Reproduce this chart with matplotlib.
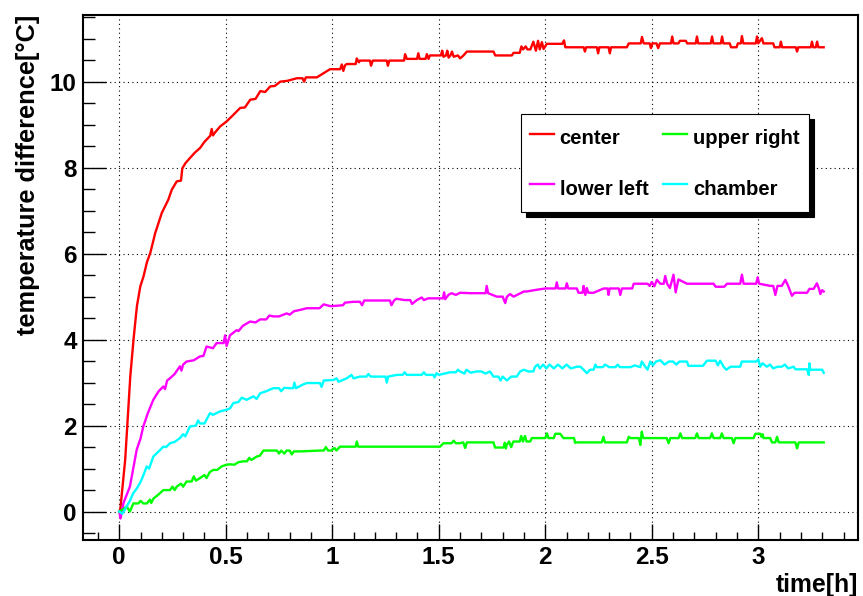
import matplotlib

matplotlib.use("Agg")
import matplotlib.pyplot as plt
from matplotlib.ticker import FormatStrFormatter, MultipleLocator

plt.rcParams["font.family"] = ["Liberation Sans", "DejaVu Sans"]
plt.rcParams["font.weight"] = "bold"

# heating run: time since start [h] and temperature difference [deg C] per sensor
t_center = [
    0.000, 0.005, 0.028, 0.052, 0.067, 0.083, 0.099, 0.114, 0.130, 0.146,
    0.169, 0.185, 0.200, 0.215, 0.230, 0.247, 0.270, 0.290, 0.296, 0.310,
    0.333, 0.355, 0.380, 0.400, 0.427, 0.434, 0.440, 0.450, 0.474, 0.490,
    0.505, 0.530, 0.568, 0.590, 0.615, 0.640, 0.662, 0.685, 0.709, 0.730,
    0.756, 0.790, 0.834, 0.860, 0.868, 0.876, 0.928, 0.960, 0.990, 1.037,
    1.045, 1.052, 1.060, 1.068, 1.110, 1.115, 1.125, 1.130, 1.177, 1.182,
    1.190, 1.256, 1.261, 1.268, 1.337, 1.342, 1.350, 1.398, 1.404, 1.410,
    1.438, 1.444, 1.452, 1.459, 1.510, 1.516, 1.522, 1.534, 1.540, 1.546,
    1.555, 1.562, 1.570, 1.590, 1.600, 1.616, 1.632, 1.757, 1.765, 1.843,
    1.851, 1.880, 1.888, 1.896, 1.908, 1.916, 1.930, 1.944, 1.956, 1.966,
    1.974, 1.984, 1.992, 2.007, 2.080, 2.088, 2.094, 2.101, 2.180, 2.186,
    2.192, 2.242, 2.248, 2.254, 2.297, 2.303, 2.309, 2.383, 2.392, 2.399,
    2.448, 2.454, 2.462, 2.490, 2.496, 2.503, 2.522, 2.530, 2.538, 2.590,
    2.596, 2.602, 2.625, 2.632, 2.660, 2.666, 2.706, 2.712, 2.718, 2.777,
    2.783, 2.789, 2.824, 2.830, 2.836, 2.866, 2.872, 2.898, 2.904, 2.918,
    2.923, 2.930, 2.988, 2.994, 3.000, 3.012, 3.017, 3.024, 3.070, 3.076,
    3.085, 3.100, 3.106, 3.112, 3.176, 3.182, 3.188, 3.246, 3.252, 3.258,
    3.270, 3.276, 3.282, 3.307,
]
dt_center = [
    0.00, 0.05, 1.21, 3.15, 4.00, 4.78, 5.24, 5.47, 5.80, 6.02,
    6.48, 6.72, 6.95, 7.10, 7.25, 7.49, 7.68, 7.70, 7.98, 8.10,
    8.23, 8.35, 8.46, 8.60, 8.74, 8.90, 8.75, 8.82, 8.96, 9.02,
    9.08, 9.20, 9.39, 9.40, 9.58, 9.60, 9.78, 9.76, 9.89, 9.90,
    10.00, 10.02, 10.08, 10.08, 10.00, 10.10, 10.10, 10.20, 10.29, 10.29,
    10.40, 10.25, 10.38, 10.41, 10.41, 10.54, 10.45, 10.49, 10.49, 10.37,
    10.49, 10.49, 10.37, 10.49, 10.49, 10.64, 10.53, 10.53, 10.66, 10.53,
    10.53, 10.64, 10.53, 10.61, 10.61, 10.72, 10.58, 10.61, 10.72, 10.56,
    10.61, 10.70, 10.58, 10.61, 10.54, 10.61, 10.70, 10.70, 10.61, 10.61,
    10.67, 10.67, 10.82, 10.75, 10.82, 10.75, 10.75, 10.93, 10.72, 10.95,
    10.75, 10.92, 10.76, 10.88, 10.88, 10.96, 10.80, 10.80, 10.80, 10.70,
    10.80, 10.80, 10.66, 10.80, 10.80, 10.66, 10.80, 10.80, 10.89, 10.89,
    10.89, 11.04, 10.89, 10.89, 10.78, 10.89, 10.89, 10.78, 10.89, 10.89,
    11.05, 10.89, 10.89, 10.95, 10.95, 10.89, 10.89, 11.05, 10.89, 10.89,
    11.05, 10.89, 10.89, 11.05, 10.89, 10.89, 10.80, 10.80, 10.89, 10.89,
    11.06, 10.89, 10.89, 11.05, 10.89, 10.98, 11.01, 10.89, 10.89, 10.80,
    10.80, 10.80, 10.93, 10.80, 10.80, 10.70, 10.80, 10.80, 10.93, 10.80,
    10.80, 10.93, 10.80, 10.80,
]

t_lower_left = [
    0.000, 0.006, 0.020, 0.050, 0.082, 0.100, 0.113, 0.135, 0.160, 0.185,
    0.207, 0.215, 0.225, 0.238, 0.260, 0.285, 0.292, 0.300, 0.316, 0.350,
    0.379, 0.395, 0.410, 0.440, 0.457, 0.490, 0.497, 0.504, 0.520, 0.551,
    0.560, 0.580, 0.614, 0.640, 0.661, 0.690, 0.705, 0.723, 0.750, 0.786,
    0.800, 0.820, 0.848, 0.880, 0.940, 0.960, 0.990, 1.000, 1.050, 1.060,
    1.099, 1.130, 1.140, 1.150, 1.271, 1.278, 1.290, 1.300, 1.340, 1.366,
    1.375, 1.397, 1.420, 1.430, 1.450, 1.520, 1.525, 1.530, 1.545, 1.560,
    1.580, 1.600, 1.647, 1.720, 1.725, 1.732, 1.772, 1.790, 1.800, 1.812,
    1.820, 1.835, 1.851, 1.900, 1.913, 1.960, 2.000, 2.048, 2.054, 2.060,
    2.070, 2.095, 2.101, 2.108, 2.148, 2.156, 2.175, 2.180, 2.188, 2.195,
    2.202, 2.227, 2.274, 2.292, 2.297, 2.302, 2.345, 2.352, 2.360, 2.408,
    2.415, 2.480, 2.490, 2.500, 2.512, 2.524, 2.540, 2.556, 2.563, 2.572,
    2.585, 2.596, 2.602, 2.612, 2.625, 2.665, 2.790, 2.800, 2.840, 2.853,
    2.915, 2.923, 2.931, 2.947, 2.990, 2.997, 3.004, 3.056, 3.070, 3.080,
    3.090, 3.110, 3.127, 3.140, 3.158, 3.170, 3.182, 3.229, 3.240, 3.260,
    3.275, 3.285, 3.291, 3.300, 3.307,
]
dt_lower_left = [
    0.00, -0.16, 0.20, 0.58, 1.44, 1.70, 1.98, 2.30, 2.60, 2.80,
    2.91, 2.85, 3.05, 3.10, 3.20, 3.38, 3.28, 3.42, 3.49, 3.52,
    3.61, 3.62, 3.84, 3.80, 3.92, 3.92, 4.10, 3.85, 4.10, 4.22,
    4.20, 4.32, 4.42, 4.40, 4.47, 4.47, 4.56, 4.54, 4.54, 4.61,
    4.58, 4.66, 4.69, 4.73, 4.73, 4.82, 4.78, 4.78, 4.80, 4.86,
    4.88, 4.88, 4.80, 4.91, 4.91, 4.80, 4.91, 4.95, 4.92, 4.92,
    4.83, 4.92, 4.98, 4.92, 4.96, 4.96, 5.10, 4.94, 5.04, 5.08,
    5.04, 5.09, 5.08, 5.08, 5.25, 5.08, 5.00, 5.00, 5.00, 4.85,
    5.00, 5.06, 5.00, 5.12, 5.12, 5.16, 5.19, 5.19, 5.33, 5.19,
    5.19, 5.19, 5.31, 5.19, 5.19, 5.09, 5.09, 5.25, 5.04, 5.20,
    5.09, 5.09, 5.19, 5.19, 5.04, 5.19, 5.19, 5.04, 5.19, 5.19,
    5.30, 5.30, 5.25, 5.34, 5.24, 5.39, 5.30, 5.30, 5.48, 5.30,
    5.20, 5.40, 5.51, 5.10, 5.40, 5.30, 5.30, 5.23, 5.23, 5.30,
    5.30, 5.51, 5.30, 5.30, 5.30, 5.45, 5.30, 5.25, 5.25, 5.04,
    5.25, 5.25, 5.39, 5.25, 5.02, 5.09, 5.09, 5.09, 5.18, 5.18,
    5.31, 5.18, 5.06, 5.15, 5.12,
]

t_upper_right = [
    0.000, 0.020, 0.035, 0.050, 0.066, 0.090, 0.100, 0.113, 0.130, 0.144,
    0.150, 0.160, 0.180, 0.207, 0.238, 0.250, 0.260, 0.270, 0.290, 0.300,
    0.316, 0.340, 0.350, 0.360, 0.379, 0.400, 0.410, 0.425, 0.442, 0.460,
    0.480, 0.504, 0.520, 0.540, 0.560, 0.583, 0.600, 0.610, 0.620, 0.645,
    0.660, 0.677, 0.740, 0.750, 0.760, 0.775, 0.786, 0.800, 0.810, 0.820,
    0.848, 0.942, 0.960, 0.970, 0.980, 0.995, 1.010, 1.020, 1.036, 1.110,
    1.115, 1.122, 1.506, 1.522, 1.560, 1.570, 1.580, 1.600, 1.615, 1.624,
    1.632, 1.757, 1.764, 1.804, 1.810, 1.815, 1.819, 1.830, 1.840, 1.850,
    1.880, 1.887, 1.895, 1.905, 1.912, 1.929, 1.937, 2.000, 2.008, 2.015,
    2.040, 2.047, 2.070, 2.085, 2.135, 2.140, 2.148, 2.265, 2.273, 2.280,
    2.383, 2.392, 2.399, 2.440, 2.446, 2.453, 2.460, 2.570, 2.579, 2.587,
    2.626, 2.634, 2.642, 2.704, 2.712, 2.720, 2.774, 2.782, 2.790, 2.821,
    2.829, 2.837, 2.876, 2.884, 2.892, 2.978, 2.986, 3.009, 3.015, 3.020,
    3.025, 3.056, 3.064, 3.080, 3.088, 3.096, 3.174, 3.182, 3.190, 3.307,
]
dt_upper_right = [
    0.00, 0.06, 0.12, 0.00, 0.19, 0.19, 0.25, 0.19, 0.19, 0.28,
    0.20, 0.30, 0.38, 0.50, 0.50, 0.58, 0.50, 0.58, 0.65, 0.58,
    0.70, 0.70, 0.82, 0.72, 0.78, 0.85, 0.78, 0.92, 0.97, 0.97,
    1.05, 1.09, 1.10, 1.09, 1.15, 1.17, 1.17, 1.25, 1.20, 1.28,
    1.30, 1.42, 1.42, 1.35, 1.42, 1.35, 1.42, 1.42, 1.33, 1.40,
    1.40, 1.42, 1.42, 1.50, 1.42, 1.42, 1.48, 1.42, 1.51, 1.51,
    1.63, 1.51, 1.51, 1.59, 1.59, 1.65, 1.59, 1.59, 1.61, 1.48,
    1.61, 1.61, 1.49, 1.49, 1.60, 1.47, 1.55, 1.63, 1.50, 1.63,
    1.63, 1.76, 1.63, 1.76, 1.63, 1.63, 1.71, 1.71, 1.82, 1.71,
    1.71, 1.81, 1.81, 1.71, 1.71, 1.60, 1.61, 1.61, 1.74, 1.61,
    1.61, 1.74, 1.71, 1.71, 1.55, 1.86, 1.71, 1.71, 1.59, 1.71,
    1.71, 1.82, 1.71, 1.71, 1.82, 1.71, 1.71, 1.82, 1.71, 1.71,
    1.82, 1.71, 1.71, 1.59, 1.71, 1.71, 1.81, 1.81, 1.74, 1.80,
    1.71, 1.71, 1.61, 1.61, 1.74, 1.61, 1.61, 1.47, 1.61, 1.61,
]

t_chamber = [
    0.000, 0.015, 0.035, 0.050, 0.066, 0.080, 0.097, 0.110, 0.129, 0.140,
    0.160, 0.185, 0.207, 0.220, 0.238, 0.260, 0.285, 0.300, 0.310, 0.332,
    0.360, 0.370, 0.379, 0.400, 0.426, 0.440, 0.473, 0.504, 0.520, 0.535,
    0.560, 0.575, 0.598, 0.630, 0.645, 0.661, 0.690, 0.723, 0.750, 0.760,
    0.775, 0.800, 0.817, 0.822, 0.830, 0.860, 0.880, 0.942, 0.950, 0.960,
    1.005, 1.020, 1.030, 1.068, 1.090, 1.100, 1.130, 1.160, 1.170, 1.180,
    1.250, 1.256, 1.262, 1.303, 1.330, 1.340, 1.350, 1.420, 1.430, 1.440,
    1.475, 1.480, 1.490, 1.500, 1.553, 1.580, 1.590, 1.600, 1.620, 1.630,
    1.650, 1.679, 1.700, 1.720, 1.740, 1.757, 1.780, 1.790, 1.800, 1.820,
    1.840, 1.866, 1.882, 1.900, 1.920, 1.944, 1.952, 1.965, 1.975, 1.990,
    2.005, 2.020, 2.040, 2.060, 2.080, 2.100, 2.120, 2.148, 2.165, 2.180,
    2.195, 2.210, 2.227, 2.235, 2.242, 2.270, 2.280, 2.300, 2.330, 2.340,
    2.350, 2.400, 2.420, 2.446, 2.453, 2.465, 2.480, 2.493, 2.505, 2.520,
    2.540, 2.560, 2.580, 2.600, 2.615, 2.630, 2.665, 2.672, 2.740, 2.759,
    2.800, 2.810, 2.821, 2.837, 2.850, 2.870, 2.915, 2.923, 2.990, 3.000,
    3.009, 3.020, 3.040, 3.055, 3.070, 3.090, 3.110, 3.125, 3.140, 3.166,
    3.174, 3.229, 3.237, 3.240, 3.244, 3.280, 3.300, 3.307,
]
dt_chamber = [
    0.00, -0.05, 0.12, 0.25, 0.43, 0.52, 0.66, 0.80, 1.05, 1.00,
    1.28, 1.40, 1.51, 1.50, 1.59, 1.62, 1.71, 1.80, 1.75, 1.98,
    2.00, 2.12, 2.05, 2.05, 2.29, 2.25, 2.33, 2.37, 2.40, 2.52,
    2.55, 2.65, 2.60, 2.68, 2.62, 2.75, 2.80, 2.87, 2.87, 2.80,
    2.88, 2.87, 2.87, 3.00, 2.87, 2.95, 2.99, 2.99, 2.90, 3.05,
    3.06, 3.10, 3.02, 3.10, 3.18, 3.10, 3.14, 3.14, 3.20, 3.14,
    3.14, 3.00, 3.14, 3.18, 3.18, 3.24, 3.18, 3.18, 3.24, 3.18,
    3.18, 3.12, 3.22, 3.18, 3.24, 3.24, 3.30, 3.26, 3.21, 3.30,
    3.23, 3.26, 3.26, 3.21, 3.26, 3.14, 3.14, 3.05, 3.14, 3.05,
    3.14, 3.14, 3.26, 3.30, 3.26, 3.26, 3.37, 3.42, 3.33, 3.42,
    3.33, 3.42, 3.33, 3.42, 3.33, 3.42, 3.33, 3.37, 3.37, 3.30,
    3.22, 3.30, 3.30, 3.42, 3.36, 3.36, 3.42, 3.36, 3.36, 3.42,
    3.36, 3.36, 3.40, 3.36, 3.49, 3.40, 3.30, 3.49, 3.40, 3.49,
    3.52, 3.42, 3.49, 3.49, 3.42, 3.49, 3.49, 3.39, 3.39, 3.51,
    3.51, 3.40, 3.51, 3.37, 3.30, 3.37, 3.37, 3.49, 3.49, 3.54,
    3.37, 3.45, 3.37, 3.42, 3.33, 3.37, 3.37, 3.42, 3.33, 3.37,
    3.31, 3.31, 3.18, 3.45, 3.30, 3.30, 3.30, 3.23,
]

SERIES = [
    ("center", t_center, dt_center, "#ff0000"),
    ("lower left", t_lower_left, dt_lower_left, "#ff00ff"),
    ("upper right", t_upper_right, dt_upper_right, "#00ff00"),
    ("chamber", t_chamber, dt_chamber, "#00ffff"),
]


def main() -> None:
    fig = plt.figure(figsize=(8.63, 5.96), dpi=100)
    ax = fig.add_axes([0.0962, 0.0940, 0.8980, 0.8808])

    lines = {}
    for label, t, dt, color in SERIES:
        (ln,) = ax.plot(t, dt, color=color, linewidth=1.7, label=label)
        lines[label] = ln

    ax.set_xlim(-0.17, 3.468)
    ax.set_ylim(-0.66, 11.55)

    ax.xaxis.set_major_locator(MultipleLocator(0.5))
    ax.xaxis.set_minor_locator(MultipleLocator(0.1))
    ax.xaxis.set_major_formatter(FormatStrFormatter("%g"))
    ax.yaxis.set_major_locator(MultipleLocator(2))
    ax.yaxis.set_minor_locator(MultipleLocator(0.5))

    ax.tick_params(axis="both", which="both", direction="in", top=False, right=False,
                   width=1.0, colors="black", labelsize=17.5)
    ax.tick_params(axis="x", which="major", length=11.5, pad=4.5)
    ax.tick_params(axis="x", which="minor", length=5.8)
    ax.tick_params(axis="y", which="major", length=16.5, pad=4.5)
    ax.tick_params(axis="y", which="minor", length=8.6)
    for lbl in ax.get_xticklabels() + ax.get_yticklabels():
        lbl.set_fontweight("bold")

    for spine in ax.spines.values():
        spine.set_linewidth(1.5)

    ax.grid(which="major", color="black", linestyle=(0, (1, 3)), linewidth=0.8)

    ax.set_xlabel("time[h]", fontsize=17.8, fontweight="bold", loc="right")
    ax.xaxis.set_label_coords(1.0, -0.062)
    ax.set_ylabel("temperature difference[°C]", fontsize=18.3, fontweight="bold", loc="top")
    ax.yaxis.set_label_coords(-0.056, 1.0)

    # two columns filled top to bottom: center/lower left, then upper right/chamber
    order = ["center", "lower left", "upper right", "chamber"]
    leg = ax.legend(
        [lines[k] for k in order],
        order,
        ncol=2,
        loc="upper left",
        bbox_to_anchor=(0.5648, 0.8114),
        borderaxespad=0.0,
        prop={"family": "Liberation Sans", "weight": "bold", "size": 14.6},
        frameon=True,
        fancybox=False,
        framealpha=1.0,
        edgecolor="black",
        shadow={"ox": 3.6, "oy": -3.6, "color": "black", "alpha": 1.0},
        handlelength=1.18,
        handleheight=1.9,
        handletextpad=0.3,
        columnspacing=0.74,
        labelspacing=1.0,
        borderpad=0.44,
    )
    leg.get_frame().set_linewidth(0.8)

    fig.savefig("out.png", dpi=100, facecolor="white")
    plt.close(fig)


if __name__ == "__main__":
    main()
